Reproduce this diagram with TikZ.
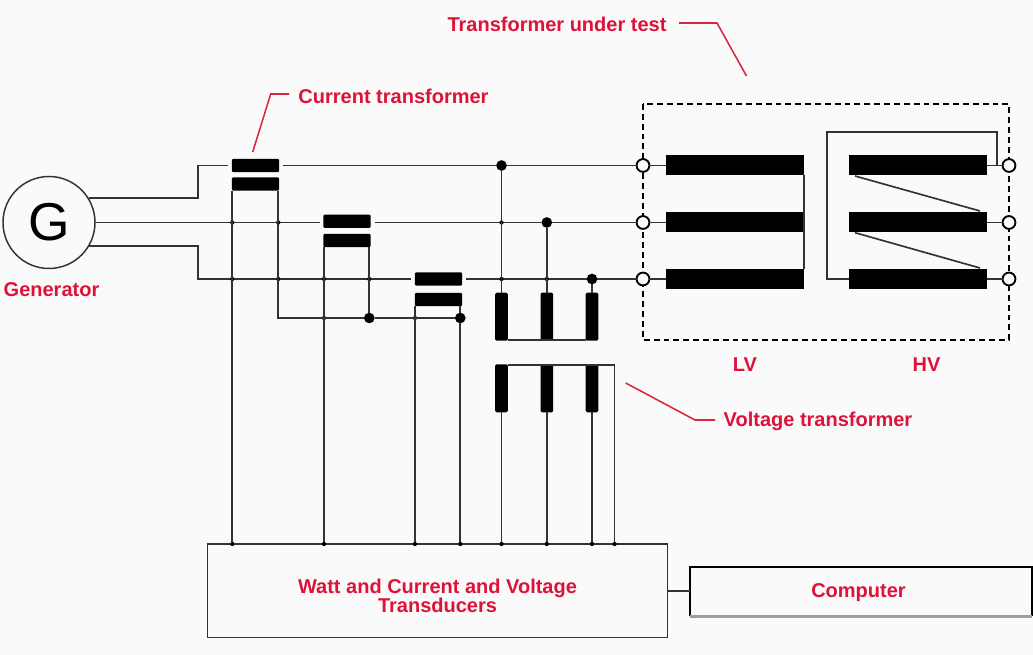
\documentclass[tikz,border=0pt]{standalone}
\usepackage{fontspec}
\setmainfont{Liberation Sans}
\definecolor{lab}{HTML}{DE1238}
\definecolor{leadc}{HTML}{D8263F}
\definecolor{bg}{HTML}{FAFAFA}
\definecolor{wire}{HTML}{333333}
\begin{document}
\begin{tikzpicture}[x=0.75pt,y=-0.75pt,
  every node/.style={inner sep=0pt,outer sep=0pt},
  wirel/.style={draw=wire,line width=1.25pt},
  lead/.style={draw=leadc,line width=1.15pt},
  lab/.style={text=lab,font=\fontsize{15pt}{14.3pt}\selectfont\bfseries,align=center},
  barh/.style={fill=black,draw=none,rounded corners=1pt,minimum width=35.6pt,minimum height=10pt},
  wind/.style={fill=black,draw=none,minimum width=103.5pt,minimum height=15pt},
  vtbar/.style={fill=black,draw=none,rounded corners=1pt,minimum width=9.4pt,minimum height=36pt},
  dotn/.style={circle,fill=black,minimum size=8pt},
  xdot/.style={circle,fill=black,minimum size=3.2pt},
  bush/.style={circle,draw=black,line width=1.4pt,fill=bg,minimum size=9.6pt},
  box/.style={draw=wire,line width=1.25pt,fill=none},
  pnt/.style={coordinate}]
\useasboundingbox (0,0) rectangle (1033,655);
\fill[bg] (0,0) rectangle (1033,655);

% Transformer under test enclosure
\node[pnt] (encTL) at (643,104) {};
\node[pnt] (encBR) at (1009,340) {};
\draw[black,line width=1.3pt,dash pattern=on 4.4pt off 3pt] (encTL) rectangle (encBR);

% Generator
\node[circle,draw=wire,line width=1.1pt,fill=bg,minimum size=69pt] (gen) at (49,222.5) {\fontsize{40pt}{40pt}\selectfont G};

% Current transformers
\node[barh] (ct1a) at (255.5,165.5) {};
\node[barh] (ct1b) at (255.5,184) {};
\node[barh] (ct2a) at (347,221.3) {};
\node[barh] (ct2b) at (347,240.5) {};
\node[barh] (ct3a) at (438.5,279) {};
\node[barh] (ct3b) at (438.5,299.5) {};

% Voltage transformers
\node[vtbar] (v1a) at (501.5,316.7) {};
\node[vtbar] (v2a) at (546.8,316.7) {};
\node[vtbar] (v3a) at (592,316.7) {};
\node[vtbar] (v1b) at (501.5,388.3) {};
\node[vtbar] (v2b) at (546.8,388.3) {};
\node[vtbar] (v3b) at (592,388.3) {};

% Junction dots
\node[dotn] (d1) at (501.5,165.5) {};
\node[dotn] (d2) at (546.8,222.5) {};
\node[dotn] (d3) at (592,279) {};
\node[dotn] (d4) at (369.3,318) {};
\node[dotn] (d5) at (460.3,318) {};

% Windings
\node[wind] (l1) at (735,165.5) {};
\node[wind] (l2) at (735,222.5) {};
\node[wind] (l3) at (735,279) {};
\node[wind] (h1) at (918,165.5) {};
\node[wind] (h2) at (918,222.5) {};
\node[wind] (h3) at (918,279) {};

% Bushings
\node[bush] (bl1) at (643,165.5) {};
\node[bush] (bl2) at (643,222.5) {};
\node[bush] (bl3) at (643,279) {};
\node[bush] (bh1) at (1009,165.5) {};
\node[bush] (bh2) at (1009,222.5) {};
\node[bush] (bh3) at (1009,279) {};

% Boxes
\node[box,minimum width=345pt,minimum height=70.2pt,anchor=north west] (tr) at (207.5,544) {};
\node[minimum width=256.5pt,minimum height=37pt,anchor=north west] (pc) at (690,567) {};
\draw[black,line width=1.5pt] (pc.south west) -- (pc.north west) -- (pc.north east) -- (pc.south east);
\draw[black!38,line width=1.9pt] (pc.south west) -- (pc.south east);
\node[lab] at (437.5,595.5) {Watt and Current and Voltage\\Transducers};
\node[lab] at (858.5,592.5) {Computer};

% Main lines
\node[pnt] (t0) at (89,198) {};
\node[pnt] (t1) at (198,198) {};
\node[pnt] (t2) at (198,165.5) {};
\node[pnt] (b0) at (89,246) {};
\node[pnt] (b1) at (198,246) {};
\node[pnt] (b2) at (198,279) {};
\draw[wirel,shorten >=2.5pt] (t0) -- (t1) -- (t2) -- (ct1a.west);
\draw[wirel,shorten <=3pt] (ct1a.east) -- (d1);
\draw[wirel] (d1) -- (bl1);
\draw[wirel] (bl1) -- (l1.west);
\draw[wirel,shorten >=2.5pt] (gen.east) -- (ct2a.west |- gen.east);
\draw[wirel,shorten <=3pt] (ct2a.east |- d2) -- (d2);
\draw[wirel] (d2) -- (bl2);
\draw[wirel] (bl2) -- (l2.west);
\draw[wirel,shorten >=2.5pt] (b0) -- (b1) -- (b2) -- (ct3a.west);
\draw[wirel,shorten <=3pt] (ct3a.east) -- (d3);
\draw[wirel] (d3) -- (bl3);
\draw[wirel] (bl3) -- (l3.west);

% Crossing marks
\foreach \n/\cx/\cy in {x1/232.3/222.5,x2/278.3/222.5,x3/232.3/279,x4/278.3/279,x5/324/279,x6/369.3/279,x7/324/318,x8/415/318,x9/501.5/222.5,x10/501.5/279,x11/546.8/279,x12/232.3/544,x13/324/544,x14/415/544,x15/460.3/544,x16/501.5/544,x17/546.8/544,x18/592/544,x19/614.5/544}
  \node[xdot] (\n) at (\cx,\cy) {};

% CT secondaries
\node[pnt] (s3) at (278.3,318) {};
\draw[wirel] (x12 |- ct1b.south) -- (x12);
\draw[wirel] (s3 |- ct1b.south) -- (s3) -- (d4);
\draw[wirel] (d4) -- (d5);
\draw[wirel] (x13 |- ct2b.south) -- (x13);
\draw[wirel] (d4 |- ct2b.south) -- (d4);
\draw[wirel] (x14 |- ct3b.south) -- (x14);
\draw[wirel] (d5 |- ct3b.south) -- (d5);
\draw[wirel] (d5) -- (x15);

% VT connections
\draw[wirel] (d1) -- (v1a.north);
\draw[wirel] (d2) -- (v2a.north);
\draw[wirel] (d3) -- (v3a.north);
\node[pnt] (vu) at (501.5,340) {};
\node[pnt] (vr) at (614.5,365) {};
\draw[wirel] (v1a.east |- vu) -- (v3a.west |- vu);
\draw[wirel] (v1b.east |- vr) -- (vr) -- (x19);
\draw[wirel] (v1b.south) -- (x16);
\draw[wirel] (v2b.south) -- (x17);
\draw[wirel] (v3b.south) -- (x18);

% Winding connections
\draw[wirel] (l1.south east) -- (l3.north east);
\draw[wirel] (h1.east) -- (bh1);
\draw[wirel] (h2.east) -- (bh2);
\draw[wirel] (h3.east) -- (bh3);
\node[pnt] (hj) at (996.7,165.5) {};
\node[pnt] (hk) at (996.7,132) {};
\node[pnt] (hm) at (826.7,132) {};
\node[pnt] (hn) at (826.7,279) {};
\draw[wirel] (hj) -- (hk) -- (hm) -- (hn) -- (h3.west);
\node[pnt] (g1) at (855,176) {};
\node[pnt] (g2) at (980,211) {};
\node[pnt] (g3) at (855,232.7) {};
\node[pnt] (g4) at (980,268) {};
\draw[wirel] (g1) -- (g2);
\draw[wirel] (g3) -- (g4);

% Transducers to computer
\draw[wirel] (tr.east |- 0,591) -- (pc.west |- 0,591);

% Labels and leaders
\node[lab] (lg) at (51.5,290) {Generator};
\node[lab] (lct) at (393.5,96) {Current transformer};
\node[lab] (lvt) at (818,421) {Voltage transformer};
\node[lab] (ltt) at (557,24) {Transformer under test};
\node[lab] (llv) at (745,365) {LV};
\node[lab] (lhv) at (926.5,365) {HV};
\node[pnt] (a1) at (252.7,152) {};
\node[pnt] (a2) at (270.7,94) {};
\node[pnt] (a3) at (289,94) {};
\node[pnt] (a4) at (625.7,383) {};
\node[pnt] (a5) at (695,420) {};
\node[pnt] (a6) at (715,420) {};
\node[pnt] (a7) at (679,23) {};
\node[pnt] (a8) at (717,23) {};
\node[pnt] (a9) at (746.5,76) {};
\draw[lead] (a1) -- (a2) -- (a3);
\draw[lead] (a4) -- (a5) -- (a6);
\draw[lead] (a7) -- (a8) -- (a9);
\end{tikzpicture}
\end{document}
